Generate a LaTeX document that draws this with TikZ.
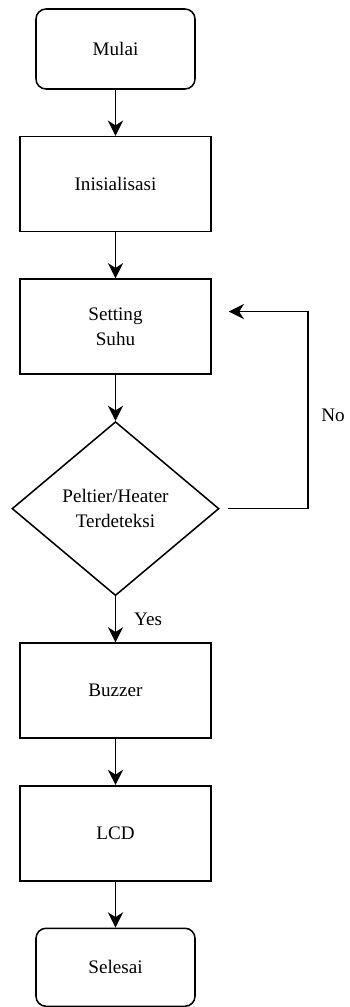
\documentclass[tikz,border=0pt]{standalone}
\usepackage{fontspec}
\setmainfont{Liberation Serif}
\usetikzlibrary{arrows.meta,positioning,shapes.geometric}

\begin{document}
\begin{tikzpicture}[
    node distance=1.15cm,
    font=\fontsize{13.6}{17.5}\selectfont,
    terminal/.style={rectangle,draw,rounded corners=0.25cm,align=center,minimum width=3.975cm,minimum height=2cm,line width=1.1pt},
    box/.style={rectangle,draw,align=center,minimum width=4.775cm,minimum height=2.375cm,line width=1.1pt},
    decision/.style={diamond,draw,align=center,aspect=1.19,inner sep=0pt,minimum width=5.175cm,minimum height=4.35cm,line width=1.1pt},
    arrow/.style={-{Stealth[length=3.8mm,width=3.8mm,inset=1.2mm]},line width=1.1pt}
]
\useasboundingbox (-2.8875,0) rectangle (5.8625,-25.175);
\node[terminal] (start) at (0,-1.225) {Mulai};
\node[box,below=of start] (init) {Inisialisasi};
\node[box,below=of init] (set) {Setting\\Suhu};
\node[decision,below=of set] (dec) {Peltier/Heater\\Terdeteksi};
\node[box,below=of dec] (buz) {Buzzer};
\node[box,below=of buz] (lcd) {LCD};
\node[terminal,below=of lcd,minimum height=1.95cm] (stop) {Selesai};
\coordinate[right=2.2cm of dec.east] (noturn);
\node (no) at (5.44,-10.375) {No};
\draw[arrow] (start) -- (init);
\draw[arrow] (init) -- (set);
\draw[arrow] (set) -- (dec);
\draw[arrow] (dec) -- node[right=0.33cm] (yes) {Yes} (buz);
\draw[arrow] (buz) -- (lcd);
\draw[arrow] (lcd) -- (stop);
\draw[arrow] ([xshift=0.2cm]dec.east) -- (noturn) |- ([xshift=0.425cm,yshift=0.375cm]set.east);
\end{tikzpicture}
\end{document}
